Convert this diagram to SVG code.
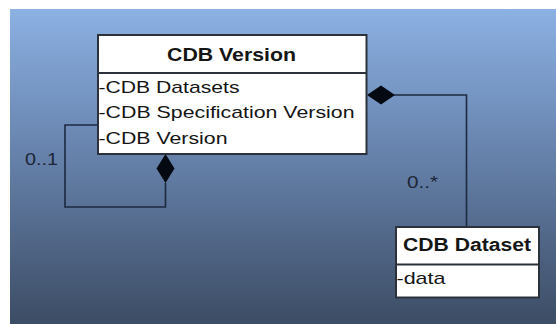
<svg xmlns="http://www.w3.org/2000/svg" width="556" height="324" viewBox="0 0 556 324">
<defs>
<linearGradient id="bg" x1="0" y1="0" x2="0" y2="1">
<stop offset="0" stop-color="#8cb1e3"/>
<stop offset="0.45" stop-color="#6783ad"/>
<stop offset="1" stop-color="#3c4c64"/>
</linearGradient>
<style>
.box{fill:#ffffff;stroke:#2b323c;stroke-width:2}
.div{stroke:#2b323c;stroke-width:2}
.t{font-family:"Liberation Sans",Arial,sans-serif;font-size:17px;fill:#151515}
.tb{font-family:"Liberation Sans",Arial,sans-serif;font-size:17.5px;font-weight:bold;fill:#151515}
.lbl{font-family:"Liberation Sans",Arial,sans-serif;font-size:16px;fill:#1c2636}
.con{fill:none;stroke:#1c2a40;stroke-width:1.6}
.dia{fill:#050a12;stroke:none}
</style>
</defs>
<rect x="0" y="0" width="556" height="324" fill="#ffffff"/>
<rect x="10" y="9" width="546" height="315" fill="url(#bg)"/>
<g id="connectors">
<polyline class="con" points="394,95 466.5,95 466.5,227"/>
<polygon class="dia" points="367,95 381,85.5 395,95 381,104.5"/>
<polyline class="con" points="98,125 65,125 65,207 165.5,207 165.5,183"/>
<polygon class="dia" points="165.5,154 174.5,168.5 165.5,183 156.5,168.5"/>
<text class="lbl" x="25" y="165" textLength="33" lengthAdjust="spacingAndGlyphs">0..1</text>
<text class="lbl" x="407" y="188" textLength="31" lengthAdjust="spacingAndGlyphs">0..*</text>
</g>
<g id="cdb-version">
<rect class="box" x="98" y="35" width="268.5" height="119"/>
<line class="div" x1="98" y1="73" x2="366.5" y2="73"/>
<text class="tb" x="167" y="60.5" textLength="129" lengthAdjust="spacingAndGlyphs">CDB Version</text>
<text class="t" x="98.5" y="92.5" textLength="141" lengthAdjust="spacingAndGlyphs">-CDB Datasets</text>
<text class="t" x="98.5" y="118" textLength="256" lengthAdjust="spacingAndGlyphs">-CDB Specification Version</text>
<text class="t" x="98.5" y="143.5" textLength="129" lengthAdjust="spacingAndGlyphs">-CDB Version</text>
</g>
<g id="cdb-dataset">
<rect class="box" x="396" y="227" width="143" height="70.5"/>
<line class="div" x1="396" y1="264.5" x2="539" y2="264.5"/>
<text class="tb" x="403" y="250.5" textLength="128" lengthAdjust="spacingAndGlyphs">CDB Dataset</text>
<text class="t" x="396.5" y="284" textLength="49" lengthAdjust="spacingAndGlyphs">-data</text>
</g>
</svg>
